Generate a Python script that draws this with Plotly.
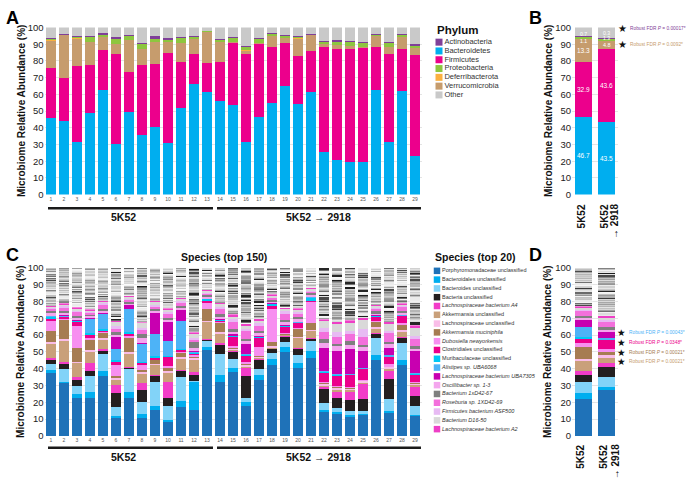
import plotly.graph_objects as go

W, H = 689, 483
FONT = "Liberation Sans, Arial, sans-serif"


def px(x):
    return x / W


def py(y):
    return 1 - y / H


# ------------------------------------------------------------------ data
ANIMALS = list(range(1, 30))
ANIMAL_LABELS = [str(a) for a in ANIMALS]
GROUP_LABELS = ["5K52", "5K52 → 2918"]
GROUP_SPANS = [(0.77, 13.46), (13.77, 29.46)]
GROUP_LABEL_X = [6.6, 21.6]

PHYLUM_LEGEND = ["Actinobacteria", "Bacteroidetes", "Firmicutes", "Proteobacteria",
                 "Deferribacterota", "Verrucomicrobia", "Other"]
PHYLUM_COLORS = ["#7f3f98", "#00aeef", "#ec008c", "#8dc63f", "#fbb040", "#c69c6d", "#c9c9c9"]
PHYLUM_STACK = ["Bacteroidetes", "Firmicutes", "Verrucomicrobia", "Deferribacterota",
                "Proteobacteria", "Actinobacteria", "Other"]

A_BACTEROIDETES = [45.7, 44.2, 31.5, 48.6, 62.3, 30.4, 49.4, 35.8, 40.7, 30.9, 51.6, 66.1, 61.5, 56.2, 53.5,
                   31.7, 46.7, 55.1, 64.8, 54.5, 61.5, 25.3, 20.8, 19.3, 19.5, 62.8, 31.7, 61.9, 23.3]
A_FIRMICUTES = [30.2, 25.4, 45.7, 29.0, 24.3, 53.8, 24.1, 41.6, 37.7, 53.7, 27.6, 17.9, 17.3, 23.0, 37.4,
                52.5, 43.2, 33.2, 25.7, 28.6, 24.5, 63.2, 66.2, 67.9, 68.4, 25.5, 52.5, 25.1, 60.4]
A_VERRUCOMICROBIA = [16.3, 25.8, 16.2, 13.8, 7.6, 5.7, 18.9, 9.8, 12.8, 6.5, 11.7, 9.0, 18.5, 11.9, 0.4,
                     2.0, 0.6, 6.6, 3.3, 10.3, 9.3, 1.4, 2.7, 1.9, 0.6, 6.6, 4.3, 7.4, 3.8]
A_DEFERRIBACTEROTA = [0.1, 0.1, 0.1, 0.1, 0.1, 0.1, 0.1, 0.1, 0.1, 0.1, 0.1, 0.1, 0.1, 0.1, 0.1,
                      0.1, 0.1, 0.1, 0.1, 0.1, 0.1, 0.1, 0.1, 0.1, 0.1, 0.1, 0.1, 0.1, 0.1]
A_PROTEOBACTERIA = [0.6, 0.3, 0.8, 2.6, 1.3, 2.9, 2.2, 3.1, 2.0, 1.5, 2.5, 1.2, 0.4, 1.5, 2.1,
                    2.3, 2.5, 1.2, 0.8, 1.0, 0.4, 1.5, 1.5, 2.1, 2.0, 0.8, 2.4, 1.1, 1.4]
A_ACTINOBACTERIA = [0.6, 0.6, 0.5, 0.7, 1.0, 1.4, 0.7, 0.6, 1.4, 0.8, 0.8, 0.4, 0.2, 0.4, 0.6,
                    0.6, 0.6, 0.4, 0.7, 0.2, 0.6, 0.6, 1.2, 0.8, 0.7, 0.4, 0.5, 0.4, 1.0]
A_OTHER = [6.5, 3.6, 5.2, 5.2, 3.4, 5.7, 4.6, 9.0, 5.3, 6.5, 5.7, 5.3, 2.0, 6.9, 5.9,
           10.8, 6.3, 3.4, 4.6, 5.3, 3.6, 7.9, 7.5, 7.9, 8.7, 3.8, 8.5, 4.0, 10.0]

B_GROUPS = [0, 1]
B_BACTEROIDETES = [46.7, 43.5]
B_FIRMICUTES = [32.9, 43.6]
B_VERRUCOMICROBIA = [13.3, 4.8]
B_DEFERRIBACTEROTA = [0.1, 0.1]
B_PROTEOBACTERIA = [1.1, 1.3]
B_ACTINOBACTERIA = [0.7, 0.3]
B_OTHER = [5.2, 6.4]
B_LABELLED = ["Bacteroidetes", "Firmicutes", "Verrucomicrobia", "Proteobacteria", "Actinobacteria"]
# label placement for the thin segments (axis units, per bar)
B_THIN_LABEL_Y = {"Proteobacteria": [91.8, 93.6], "Actinobacteria": [96.0, 96.9]}

SPECIES = ["Porphyromonadaceae unclassified", "Bacteroidales unclassified", "Bacteroides unclassified",
           "Bacteria unclassified", "Lachnospiraceae bacterium A4", "Akkermansia unclassified",
           "Lachnospiraceae unclassified", "Akkermansia muciniphila", "Dubosiella newyorkensis",
           "Clostridiales unclassified", "Muribaculaceae unclassified", "Alistipes sp. UBA6068",
           "Lachnospiraceae bacterium UBA7305", "Oscillibacter sp. 1-3", "Bacterium 1xD42-67",
           "Roseburia sp. 1XD42-69", "Firmicutes bacterium ASF500", "Bacterium D16-50",
           "Lachnospiraceae bacterium A2"]
SPECIES_ITALIC = [False, False, False, False, True, False, False, True, True, False, False, True,
                  True, True, True, True, True, True, True]
SPECIES_COLORS = ["#1f72b8", "#00aeef", "#82d3f8", "#231f20", "#f23cc8", "#c9a07a", "#f9bde8",
                  "#a67c52", "#f78ff0", "#ec008c", "#00c8f5", "#4db3f7", "#c800b0", "#f4a6ee",
                  "#7f7f7f", "#f36fdc", "#e7baf3", "#d9d9d9", "#ee3fc6"]

C_PORPHYROMONADACEAE = [37.5, 31.6, 22.5, 22.5, 35.6, 10.4, 22.5, 10.4, 15.3, 8.2, 17.0, 15.7, 51.0, 32.2, 37.8,
                        18.0, 33.1, 42.5, 50.0, 40.6, 46.6, 14.7, 13.3, 11.8, 12.2, 45.3, 14.0, 42.5, 12.2]
C_BACTEROIDALES = [1.8, 0.8, 2.2, 3.5, 3.2, 1.5, 3.5, 2.9, 2.3, 1.6, 4.0, 16.5, 1.8, 3.8, 2.8,
                   2.0, 2.9, 3.2, 2.8, 2.8, 3.8, 1.0, 0.7, 0.6, 1.5, 2.8, 1.0, 2.8, 0.5]
C_BACTEROIDES = [3.6, 7.6, 5.3, 9.5, 9.9, 5.5, 14.0, 6.7, 14.6, 7.8, 14.0, 0.5, 3.8, 13.0, 5.3,
                 2.8, 4.1, 3.4, 3.2, 4.7, 6.2, 3.9, 2.7, 2.3, 1.0, 10.3, 6.9, 10.3, 4.9]
C_BACTERIA = [2.8, 2.9, 3.5, 3.1, 2.3, 8.2, 0.8, 7.5, 3.8, 4.9, 3.8, 3.8, 1.0, 5.7, 4.5,
              12.6, 5.2, 2.8, 3.4, 3.8, 1.4, 8.4, 5.8, 6.9, 7.3, 2.8, 12.2, 2.8, 6.2]
C_LACHNO_A4 = [0.6, 0.9, 1.5, 5.1, 0.5, 5.0, 0.5, 4.0, 0.5, 9.7, 0.5, 1.5, 0.3, 0.5, 0.5,
               5.2, 1.0, 0.5, 0.5, 0.5, 0.3, 1.5, 4.1, 5.0, 9.3, 0.3, 4.7, 0.3, 5.6]
C_AKK_UNCL = [8.9, 13.3, 8.8, 6.7, 6.0, 3.0, 8.0, 5.5, 6.0, 5.5, 7.0, 7.8, 10.2, 6.0, 0.5,
              0.5, 0.5, 0.5, 0.3, 6.0, 4.5, 0.5, 0.5, 0.5, 0.5, 2.8, 1.5, 3.8, 1.0]
C_LACHNO_UNCL = [0.7, 0.6, 0.5, 0.5, 0.5, 1.0, 0.5, 1.5, 0.5, 1.1, 0.5, 1.0, 0.5, 0.5, 1.0,
                 1.5, 0.5, 0.5, 0.5, 0.5, 0.5, 1.5, 2.0, 1.5, 1.0, 0.3, 1.0, 0.3, 1.0]
C_AKK_MUC = [6.8, 11.9, 8.1, 6.8, 3.4, 1.0, 8.8, 1.0, 2.3, 1.8, 3.2, 0.5, 7.0, 5.7, 0.3,
             0.3, 0.3, 2.7, 0.3, 5.1, 3.7, 0.3, 0.3, 0.3, 0.3, 3.4, 0.3, 3.7, 0.3]
C_DUBOSIELLA = [5.5, 0.5, 13.1, 0.3, 0.3, 6.5, 1.0, 3.0, 0.5, 1.0, 0.5, 1.0, 4.0, 0.5, 1.0,
                1.0, 5.6, 19.5, 0.5, 0.5, 13.1, 0.5, 0.5, 0.5, 0.5, 0.5, 1.0, 0.5, 0.5]
C_CLOSTRIDIALES = [2.0, 1.0, 2.8, 2.3, 1.3, 2.5, 1.5, 1.0, 0.5, 5.7, 0.8, 1.0, 1.0, 1.0, 5.6,
                   4.3, 5.6, 1.5, 3.8, 3.0, 0.5, 5.6, 6.4, 7.0, 6.5, 2.7, 4.7, 4.6, 4.6]
C_MURIBACULACEAE = [0.7, 0.3, 0.3, 1.0, 0.5, 0.5, 1.0, 0.5, 1.5, 0.5, 0.5, 0.5, 1.0, 0.3, 0.3,
                    0.3, 0.3, 1.5, 0.3, 0.3, 2.0, 0.3, 0.3, 0.3, 0.3, 0.3, 0.3, 0.3, 0.3]
C_ALISTIPES = [0.6, 0.5, 0.3, 8.9, 9.3, 6.5, 13.5, 11.3, 12.6, 8.8, 16.5, 0.5, 0.3, 0.3, 0.3,
               0.3, 0.3, 0.3, 0.3, 0.3, 0.3, 0.3, 0.3, 0.3, 0.3, 0.3, 0.3, 0.3, 0.3]
C_LACHNO_UBA7305 = [0.0, 0.2, 0.2, 0.2, 0.3, 7.1, 2.5, 0.3, 13.1, 11.3, 6.5, 0.5, 0.2, 0.2, 0.5,
                    6.0, 0.3, 0.3, 0.3, 0.3, 0.3, 14.0, 13.5, 15.0, 10.0, 0.3, 4.7, 0.3, 13.0]
C_OSCILLIBACTER = [2.0, 1.0, 1.0, 0.8, 1.5, 2.0, 0.8, 2.5, 1.0, 1.5, 1.5, 1.5, 1.0, 1.0, 1.5,
                   1.5, 1.5, 1.0, 1.5, 1.0, 1.0, 3.0, 3.0, 2.0, 2.0, 1.0, 2.0, 1.0, 1.5]
C_BACTERIUM_1XD42 = [0.9, 1.5, 1.5, 1.2, 1.0, 1.0, 1.0, 2.5, 1.0, 1.0, 1.0, 3.5, 1.0, 2.0, 2.0,
                     1.5, 1.5, 1.0, 1.5, 1.5, 1.0, 2.0, 1.5, 2.5, 1.5, 1.0, 1.5, 1.0, 1.5]
C_ROSEBURIA = [1.5, 2.0, 2.6, 1.0, 2.8, 2.5, 1.5, 2.7, 1.5, 2.5, 2.0, 1.5, 1.0, 3.0, 4.5,
               5.0, 3.0, 1.0, 4.0, 2.0, 1.0, 4.5, 4.0, 4.0, 4.6, 2.0, 5.3, 2.5, 4.0]
C_FIRMICUTES_ASF500 = [0.5, 0.8, 0.8, 0.5, 0.5, 1.0, 0.5, 1.0, 1.0, 1.0, 1.0, 1.0, 0.5, 1.0, 1.0,
                       1.0, 1.5, 0.5, 1.0, 1.0, 0.5, 2.0, 3.0, 2.0, 5.0, 0.5, 1.0, 0.5, 2.0]
C_BACTERIUM_D16 = [0.5, 0.8, 1.0, 1.0, 1.2, 3.0, 1.0, 3.0, 2.0, 1.5, 1.5, 3.0, 1.0, 2.0, 2.0,
                   2.0, 1.5, 1.0, 1.5, 1.5, 1.0, 4.5, 4.5, 5.0, 5.0, 1.0, 4.7, 1.0, 5.0]
C_LACHNO_A2 = [0.5, 0.8, 0.5, 0.5, 0.5, 0.5, 0.5, 0.5, 0.5, 0.5, 0.5, 0.5, 0.5, 0.5, 1.0,
               1.0, 1.0, 0.5, 0.5, 0.5, 0.5, 1.0, 1.5, 1.5, 1.5, 0.5, 1.0, 0.5, 1.5]
C_OTHER_SPECIES = [22.6, 21.0, 23.5, 24.6, 19.4, 31.3, 16.6, 32.2, 19.5, 24.1, 17.7, 38.2, 12.9, 20.8, 27.6,
                   33.2, 30.3, 15.8, 23.8, 24.1, 11.8, 30.5, 32.1, 31.0, 29.7, 21.9, 31.9, 21.0, 34.1]

D_5K52 = [22.0, 3.8, 6.6, 3.9, 2.3, 6.5, 0.6, 7.2, 2.6, 2.3, 0.8, 6.1, 4.3, 1.5, 0.8, 3.0, 1.2, 1.0, 0.8]
D_2918 = [27.5, 1.9, 5.9, 5.5, 2.9, 2.8, 1.5, 2.0, 1.5, 5.8, 0.4, 0.5, 3.9, 1.5, 1.0, 3.0, 1.2, 1.5, 1.2]
D_OTHER_SPECIES = [22.7, 28.5]

# weights of the remaining (rank 20-150) species shown as grey stripes
OTHER_STRIPE_WEIGHTS = [3, 1, 2, 1, 4, 1, 2, 3, 1, 1, 2, 5, 1, 2, 1, 3, 1, 2,
                        1, 1, 4, 2, 1, 3, 1, 2, 1, 1, 2, 3, 1, 2, 4, 1, 1, 2]
OTHER_SHADES = ["#8f8f8f", "#4a4a4a", "#c2c2c2", "#6e6e6e", "#262626", "#a8a8a8", "#dcdcdc", "#5c5c5c",
                "#9b9b9b", "#d0d0d0", "#3b3b3b", "#828282", "#b5b5b5", "#ebebeb", "#6a6a6a", "#1e1e1e"]

B_STARS = [(99.4, "Robust FDR <i>P</i> = 0.00017*", "#7f3f98"),
           (90.1, "Robust FDR <i>P</i> = 0.0092*", "#c69c6d")]
D_STARS = [(61.8, "Robust FDR <i>P</i> = 0.00043*", "#4db3f7"),
           (55.5, "Robust FDR <i>P</i> = 0.0348*", "#ec008c"),
           (49.9, "Robust FDR <i>P</i> = 0.00021*", "#a67c52"),
           (44.6, "Robust FDR <i>P</i> = 0.00021*", "#c69c6d")]

A_DATA = {"Bacteroidetes": A_BACTEROIDETES, "Firmicutes": A_FIRMICUTES, "Verrucomicrobia": A_VERRUCOMICROBIA,
          "Deferribacterota": A_DEFERRIBACTEROTA, "Proteobacteria": A_PROTEOBACTERIA,
          "Actinobacteria": A_ACTINOBACTERIA, "Other": A_OTHER}
B_DATA = {"Bacteroidetes": B_BACTEROIDETES, "Firmicutes": B_FIRMICUTES, "Verrucomicrobia": B_VERRUCOMICROBIA,
          "Deferribacterota": B_DEFERRIBACTEROTA, "Proteobacteria": B_PROTEOBACTERIA,
          "Actinobacteria": B_ACTINOBACTERIA, "Other": B_OTHER}
C_DATA = [C_PORPHYROMONADACEAE, C_BACTEROIDALES, C_BACTEROIDES, C_BACTERIA, C_LACHNO_A4, C_AKK_UNCL,
          C_LACHNO_UNCL, C_AKK_MUC, C_DUBOSIELLA, C_CLOSTRIDIALES, C_MURIBACULACEAE, C_ALISTIPES,
          C_LACHNO_UBA7305, C_OSCILLIBACTER, C_BACTERIUM_1XD42, C_ROSEBURIA, C_FIRMICUTES_ASF500,
          C_BACTERIUM_D16, C_LACHNO_A2]
PCOL = dict(zip(PHYLUM_LEGEND, PHYLUM_COLORS))

# ------------------------------------------------------------------ traces
fig = go.Figure()

for ph in PHYLUM_STACK:
    fig.add_trace(go.Bar(x=ANIMALS, y=A_DATA[ph], xaxis="x", yaxis="y", width=0.8,
                         marker=dict(color=PCOL[ph], line=dict(width=0)), showlegend=False))
    fig.add_trace(go.Bar(x=B_GROUPS, y=B_DATA[ph], xaxis="x2", yaxis="y2", width=0.74,
                         marker=dict(color=PCOL[ph], line=dict(width=0)), showlegend=False))

for k, vals in enumerate(C_DATA):
    fig.add_trace(go.Bar(x=ANIMALS, y=vals, xaxis="x3", yaxis="y3", width=0.8,
                         marker=dict(color=SPECIES_COLORS[k], line=dict(width=0)), showlegend=False))
    fig.add_trace(go.Bar(x=B_GROUPS, y=[D_5K52[k], D_2918[k]], xaxis="x4", yaxis="y4", width=0.74,
                         marker=dict(color=SPECIES_COLORS[k], line=dict(width=0)), showlegend=False))

K = len(OTHER_STRIPE_WEIGHTS)
SW = sum(OTHER_STRIPE_WEIGHTS)
NS = len(OTHER_SHADES)
for j in range(K):
    yc = [C_OTHER_SPECIES[i] * OTHER_STRIPE_WEIGHTS[(j + 5 * i) % K] / SW for i in range(len(ANIMALS))]
    cc = [OTHER_SHADES[(j * 7 + i * 3) % NS] for i in range(len(ANIMALS))]
    fig.add_trace(go.Bar(x=ANIMALS, y=yc, xaxis="x3", yaxis="y3", width=0.8,
                         marker=dict(color=cc, line=dict(width=0.35, color="white")), showlegend=False))
    yd = [D_OTHER_SPECIES[i] * OTHER_STRIPE_WEIGHTS[(j + 11 * i) % K] / SW for i in range(2)]
    cd = [OTHER_SHADES[(j * 7 + i * 5 + 1) % NS] for i in range(2)]
    fig.add_trace(go.Bar(x=B_GROUPS, y=yd, xaxis="x4", yaxis="y4", width=0.74,
                         marker=dict(color=cd, line=dict(width=0.35, color="white")), showlegend=False))

# legends drawn as marker rows
fig.add_trace(go.Scatter(x=[0] * len(PHYLUM_LEGEND), y=list(range(len(PHYLUM_LEGEND))), xaxis="x5", yaxis="y5",
                         mode="markers+text", text=PHYLUM_LEGEND, textposition="middle right",
                         textfont=dict(size=7.5, color="#333", family=FONT),
                         marker=dict(symbol="square", size=7, color=PHYLUM_COLORS),
                         cliponaxis=False, showlegend=False, hoverinfo="skip"))
sp_text = [f"<i>{s}</i>" if it else s for s, it in zip(SPECIES, SPECIES_ITALIC)]
fig.add_trace(go.Scatter(x=[0] * len(SPECIES), y=list(range(len(SPECIES))), xaxis="x6", yaxis="y6",
                         mode="markers+text", text=sp_text, textposition="middle right",
                         textfont=dict(size=5.5, color="#333", family=FONT),
                         marker=dict(symbol="square", size=6.5, color=SPECIES_COLORS),
                         cliponaxis=False, showlegend=False, hoverinfo="skip"))

# ------------------------------------------------------------------ layout
yax = dict(range=[0, 100], dtick=10, showgrid=True, gridcolor="#e4e4e4", gridwidth=0.6, zeroline=False,
           showline=False, ticks="", tickfont=dict(size=9.5, color="#222", family=FONT), fixedrange=True)
xnum = dict(range=[0.5, 29.5], tickmode="array", tickvals=ANIMALS, ticktext=ANIMAL_LABELS, ticks="",
            tickfont=dict(size=5, color="#555", family=FONT), showgrid=False, zeroline=False, showline=False)
xcat = dict(range=[-0.5, 1.5], showticklabels=False, ticks="", showgrid=False, zeroline=False, showline=False)

yA = [py(193), py(22)]
yC = [py(440), py(268)]
xA = [px(44.5), px(421.5)]
xB = [px(572), px(618)]

fig.update_layout(
    width=W, height=H, autosize=False, margin=dict(l=0, r=0, t=0, b=0),
    paper_bgcolor="white", plot_bgcolor="white", barmode="stack", showlegend=False,
    font=dict(family=FONT, color="#222"),
    xaxis=dict(domain=xA, anchor="y", **xnum),
    yaxis=dict(domain=yA, anchor="x", **yax),
    xaxis2=dict(domain=xB, anchor="y2", **xcat),
    yaxis2=dict(domain=yA, anchor="x2", **yax),
    xaxis3=dict(domain=xA, anchor="y3", **xnum),
    yaxis3=dict(domain=yC, anchor="x3", **yax),
    xaxis4=dict(domain=xB, anchor="y4", **xcat),
    yaxis4=dict(domain=yC, anchor="x4", **yax),
    xaxis5=dict(domain=[px(439), px(520)], range=[0, 1], visible=False, anchor="y5"),
    yaxis5=dict(domain=[py(95.5), py(32.5)], range=[6.5, -0.5], visible=False, anchor="x5"),
    xaxis6=dict(domain=[px(437), px(520)], range=[0, 1], visible=False, anchor="y6"),
    yaxis6=dict(domain=[py(437.5), py(266.5)], range=[18.5, -0.5], visible=False, anchor="x6"),
)

ann = []
shapes = []


def A(**kw):
    base = dict(showarrow=False, font=dict(family=FONT, size=10, color="#111"))
    if "font" in kw:
        f = dict(base["font"])
        f.update(kw.pop("font"))
        base["font"] = f
    base.update(kw)
    ann.append(base)


# panel letters
for letter, x, y in [("A", 4, 12), ("B", 527, 12), ("C", 4, 255), ("D", 527, 255)]:
    A(text=f"<b>{letter}</b>", x=px(x), y=py(y), xref="paper", yref="paper", xanchor="left",
      yanchor="middle", font=dict(size=18, color="#000"))

# y titles
for x, y in [(21, 107.5), (548, 107.5), (21, 354), (548, 354)]:
    A(text="<b>Microbiome Relative Abundance (%)</b>", x=px(x), y=py(y), xref="paper", yref="paper",
      textangle=-90, xanchor="center", yanchor="middle", font=dict(size=10))

# Animal # and group brackets
for xr, ytick, yline, ylab in [("x", 199, 207, 216), ("x3", 446, 452, 462)]:
    A(text="Animal #", x=29.7, y=py(ytick), xref=xr, yref="paper", xanchor="left", yanchor="middle",
      font=dict(size=5.5, color="#555"))
    for (x0, x1), lab, lx in zip(GROUP_SPANS, GROUP_LABELS, GROUP_LABEL_X):
        shapes.append(dict(type="line", xref=xr, yref="paper", x0=x0, x1=x1, y0=py(yline), y1=py(yline),
                           line=dict(color="#1a1a1a", width=2.5)))
        A(text=f"<b>{lab}</b>", x=lx, y=py(ylab), xref=xr, yref="paper", xanchor="center",
          yanchor="middle", font=dict(size=10.5))

# B / D category labels (rotated)
for ytop in [201, 447]:
    A(text="<b>5K52</b>", x=px(581), y=py(ytop), xref="paper", yref="paper", textangle=-90,
      xanchor="center", yanchor="top", font=dict(size=10))
    A(text="<b>5K52</b>", x=px(604), y=py(ytop), xref="paper", yref="paper", textangle=-90,
      xanchor="center", yanchor="top", font=dict(size=10))
    A(text="<b>→ 2918</b>", x=px(615), y=py(ytop), xref="paper", yref="paper", textangle=-90,
      xanchor="center", yanchor="top", font=dict(size=10))

# titles
A(text="<b>Phylum</b>", x=px(435), y=py(25), xref="paper", yref="paper", xanchor="left", yanchor="middle",
  font=dict(size=11.5))
A(text="<b>Species (top 150)</b>", x=px(224), y=py(257), xref="paper", yref="paper", xanchor="center",
  yanchor="middle", font=dict(size=10.5))
A(text="<b>Species (top 20)</b>", x=px(433), y=py(257), xref="paper", yref="paper", xanchor="left",
  yanchor="middle", font=dict(size=10.5))

# B value labels
for gi in B_GROUPS:
    cum = 0.0
    for ph in PHYLUM_STACK:
        v = B_DATA[ph][gi]
        bottom, top = cum, cum + v
        cum = top
        if ph in B_LABELLED:
            if ph in B_THIN_LABEL_Y:
                yy, fs = B_THIN_LABEL_Y[ph][gi], 5.2
            else:
                yy, fs = (bottom + top) / 2, (6.5 if v > 6 else 5.5)
            A(text=f"{v:.1f}", x=gi, y=yy, xref="x2", yref="y2", xanchor="center", yanchor="middle",
              font=dict(size=fs, color="white"))

# stars
for yv, txt, col in B_STARS:
    A(text="★", x=px(622), y=yv, xref="paper", yref="y2", xanchor="center", yanchor="middle",
      font=dict(size=10, color="#111", family="DejaVu Sans"))
    A(text=txt, x=px(627.5), y=yv, xref="paper", yref="y2", xanchor="left", yanchor="middle",
      font=dict(size=4.8, color=col))
for yv, txt, col in D_STARS:
    A(text="★", x=px(621), y=yv, xref="paper", yref="y4", xanchor="center", yanchor="middle",
      font=dict(size=9.5, color="#111", family="DejaVu Sans"))
    A(text=txt, x=px(627), y=yv, xref="paper", yref="y4", xanchor="left", yanchor="middle",
      font=dict(size=4.8, color=col))

fig.update_layout(annotations=ann, shapes=shapes)
fig.write_html("out.html")
